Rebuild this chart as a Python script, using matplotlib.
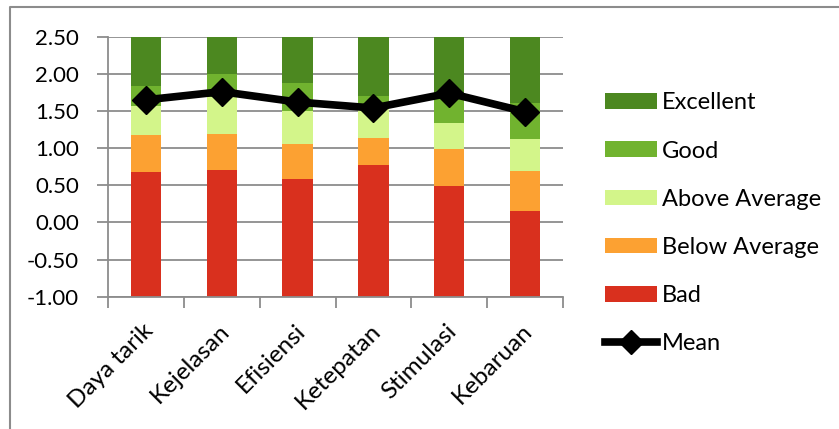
import matplotlib
matplotlib.use("Agg")
import matplotlib.pyplot as plt
import matplotlib.transforms as mtransforms
import numpy as np
from matplotlib.lines import Line2D
from matplotlib.patches import Patch

categories = ["Daya tarik", "Kejelasan", "Efisiensi", "Ketepatan", "Stimulasi", "Kebaruan"]
series_names = ["Bad", "Below Average", "Above Average", "Good", "Excellent"]
# segment heights, stacked from the axis floor at -1.00
bad = [1.68, 1.71, 1.59, 1.77, 1.49, 1.15]
below_avg = [0.49, 0.48, 0.46, 0.37, 0.50, 0.54]
above_avg = [0.40, 0.50, 0.45, 0.44, 0.35, 0.43]
good = [0.26, 0.31, 0.38, 0.12, 0.37, 0.49]
excellent = [0.66, 0.50, 0.62, 0.80, 0.78, 0.89]
mean = [1.65, 1.76, 1.62, 1.54, 1.74, 1.49]
yticks = [-1.0, -0.5, 0.0, 0.5, 1.0, 1.5, 2.0, 2.5]
base_value = -1.0

colors = ["#D9301E", "#FCA132", "#D3F58A", "#71B32F", "#4C8820"]

plt.rcParams['font.family'] = ['Lato', 'DejaVu Sans']
fig = plt.figure(figsize=8.39 * np.array([1, 429 / 839]), dpi=100)
W, H = 839, 429
ax = fig.add_axes([108 / W, 1 - 296.7 / H, (563 - 108) / W, (296.7 - 36.7) / H])

x = np.arange(len(categories))
bottom = np.full(len(categories), base_value)
handles = []
for name, vals, c in zip(series_names, [bad, below_avg, above_avg, good, excellent], colors):
    ax.bar(x, vals, bottom=bottom, width=0.40, color=c, zorder=2)
    bottom = bottom + np.array(vals)
    handles.append(Patch(facecolor=c, label=name))

ax.plot(x, mean, color="black", lw=5.5, marker="D", ms=14, zorder=4, clip_on=False)

ax.set_xlim(-0.5, len(categories) - 0.5)
ax.set_ylim(-1.0, 2.5)
ax.set_yticks(yticks)
ax.set_yticklabels([f"{v:.2f}" for v in yticks], fontsize=16)
ax.yaxis.grid(True, color="#8C8C8C", lw=1.3, zorder=0)
ax.set_axisbelow(True)
ax.set_xticks(x)
ax.set_xticks(np.arange(len(categories) + 1) - 0.5, minor=True)
ax.tick_params(axis="x", which="major", length=0, pad=18)
ax.tick_params(axis="x", which="minor", length=8, color="#8C8C8C", width=1.3)
ax.tick_params(axis="y", length=8, color="#8C8C8C", width=1.3, pad=13)
ax.set_xticklabels(categories, rotation=45, ha="right", va="center", rotation_mode="anchor", fontsize=17.5)
offset = mtransforms.ScaledTranslation(4 / 100, -6 / 100, fig.dpi_scale_trans)
for lbl in ax.get_xticklabels():
    lbl.set_transform(lbl.get_transform() + offset)
for s in ["top", "right"]:
    ax.spines[s].set_visible(False)
for s in ["left", "bottom"]:
    ax.spines[s].set_color("#8C8C8C")
    ax.spines[s].set_linewidth(1.3)

leg_handles = handles[::-1] + [Line2D([0], [0], color="black", lw=5.5, marker="D", ms=12, label="Mean")]
fig.legend(handles=leg_handles, loc="upper left", bbox_to_anchor=(596 / W, 1 - 83 / H),
           frameon=False, fontsize=17, handlelength=2.2, handleheight=0.65,
           labelspacing=1.15, handletextpad=0.2, borderaxespad=0)

# chart border (top and left edges)
fig.add_artist(Line2D([10 / W, 10 / W, 1], [0, 1 - 7.5 / H, 1 - 7.5 / H], color="#8C8C8C", lw=1.5))

fig.savefig("out.png", dpi=100)
